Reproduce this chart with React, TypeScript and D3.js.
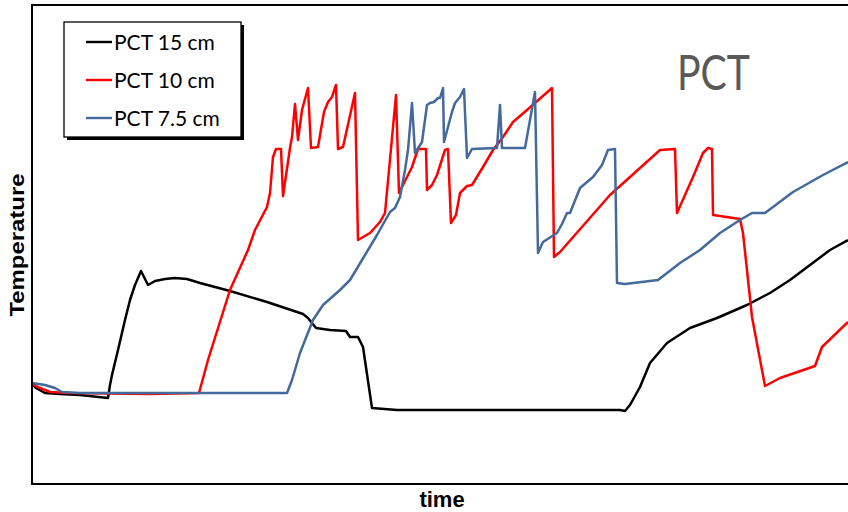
import React from "react";
import * as d3 from "d3";

// time (arbitrary units), temperature (arbitrary units)
const PCT15: [number, number][] = [
  [0,100],[4,96],[13,91],[28,90],[48,89],[76,86],[78,99],[80,109],[86,134],[93,164],[98,184],[103,199],[109,213],[116,199],[123,203],[133,205],[143,206],[155,205],[168,201],[198,193],[235,182],[271,170],[276,166],[284,156],[298,154],[314,153],[318,147],[326,147],[331,137],[340,76],[365,74],[468,74],[588,74],[593,73],[598,79],[608,97],[618,121],[635,141],[658,156],[685,166],[715,179],[738,191],[758,204],[778,219],[798,234],[816,244]
];
const PCT10: [number, number][] = [
  [0,100],[8,96],[18,92],[38,91],[118,90],[167,91],[176,124],[198,194],[216,234],[223,254],[235,277],[238,291],[241,327],[244,335],[249,335],[251,288],[258,336],[260,347],[263,380],[266,344],[270,374],[276,396],[279,336],[286,337],[292,372],[296,382],[300,387],[304,399],[306,335],[311,337],[323,391],[326,244],[338,251],[348,262],[353,271],[364,389],[367,291],[380,317],[386,335],[394,335],[395,294],[400,299],[405,309],[413,334],[416,335],[419,261],[424,269],[428,291],[435,298],[440,299],[451,317],[461,334],[471,347],[481,362],[495,374],[520,396],[522,227],[528,232],[578,289],[628,334],[643,335],[645,271],[661,307],[671,331],[676,336],[680,335],[681,269],[688,268],[708,265],[711,251],[720,167],[733,98],[748,106],[783,118],[790,137],[816,162]
];
const PCT75: [number, number][] = [
  [0,101],[13,99],[23,96],[30,92],[48,91],[118,91],[168,91],[255,91],[260,104],[268,131],[281,164],[291,179],[308,194],[318,204],[330,224],[345,249],[358,272],[363,276],[368,287],[373,314],[376,334],[380,381],[383,331],[390,342],[395,379],[398,381],[402,382],[406,386],[408,386],[411,396],[412,342],[420,372],[423,381],[428,387],[432,395],[435,326],[440,335],[465,336],[468,379],[470,336],[493,336],[503,392],[506,231],[511,242],[525,251],[530,260],[535,271],[538,271],[548,296],[561,307],[570,319],[576,334],[583,335],[585,201],[593,200],[626,204],[648,221],[668,234],[688,251],[708,264],[720,271],[733,271],[761,292],[791,309],[816,322]
];

const SERIES_NAMES = ["PCT 15 cm", "PCT 10 cm", "PCT 7.5 cm"];
const SERIES_COLORS = ["#000000", "#ff0000", "#44699b"];
const SERIES_DATA = [PCT15, PCT10, PCT75];

const W = 848, H = 512;
const M = { left: 32, top: 5, right: 848, bottom: 484 };

export default function App() {
  const x = d3.scaleLinear().domain([0, 816]).range([M.left, M.right]);
  const y = d3.scaleLinear().domain([0, 479]).range([M.bottom, M.top]);
  const line = d3.line<[number, number]>().x(d => x(d[0])).y(d => y(d[1]));

  return (
    <svg width={W} height={H} style={{ position: "absolute", left: 0, top: 0, background: "#fff" }}>
      <defs>
        <clipPath id="plot">
          <rect x={M.left} y={M.top} width={M.right - M.left + 2} height={M.bottom - M.top} />
        </clipPath>
      </defs>
      <rect width={W} height={H} fill="#fff" />
      <g clipPath="url(#plot)">
        {SERIES_DATA.map((s, i) => (
          <path key={i} d={line(s) || ""} fill="none" stroke={SERIES_COLORS[i]} strokeWidth={2.5} strokeLinejoin="round" />
        ))}
      </g>
      {/* frame */}
      <path d={`M${W + 2},${M.top}H${M.left}V${M.bottom}H${W + 2}`} fill="none" stroke="#000" strokeWidth={2} />
      {/* legend */}
      <rect x={67} y={25} width={177} height={115} fill="#000" />
      <rect x={64} y={22} width={177} height={115} fill="#fff" stroke="#000" strokeWidth={1.3} />
      {SERIES_NAMES.map((n, i) => (
        <g key={n} transform={`translate(0,${42 + i * 38})`}>
          <line x1={86} x2={112} y1={0} y2={0} stroke={SERIES_COLORS[i]} strokeWidth={2.4} />
          <text x={114} y={7.5} fontFamily="Lato, 'Open Sans', sans-serif" fontSize={21} fill="#000">{n}</text>
        </g>
      ))}
      <text x={677} y={90} fontFamily="Lato, 'Open Sans', sans-serif" fontSize={48} fill="#595959" textLength={73} lengthAdjust="spacingAndGlyphs">PCT</text>
      <text transform="translate(24,245) rotate(-90)" textAnchor="middle" fontFamily="'Liberation Sans', Arial, sans-serif" fontWeight="bold" fontSize={20} fill="#000" textLength={143} lengthAdjust="spacingAndGlyphs">Temperature</text>
      <text x={442} y={507} textAnchor="middle" fontFamily="'Liberation Sans', Arial, sans-serif" fontWeight="bold" fontSize={22} fill="#000">time</text>
    </svg>
  );
}
